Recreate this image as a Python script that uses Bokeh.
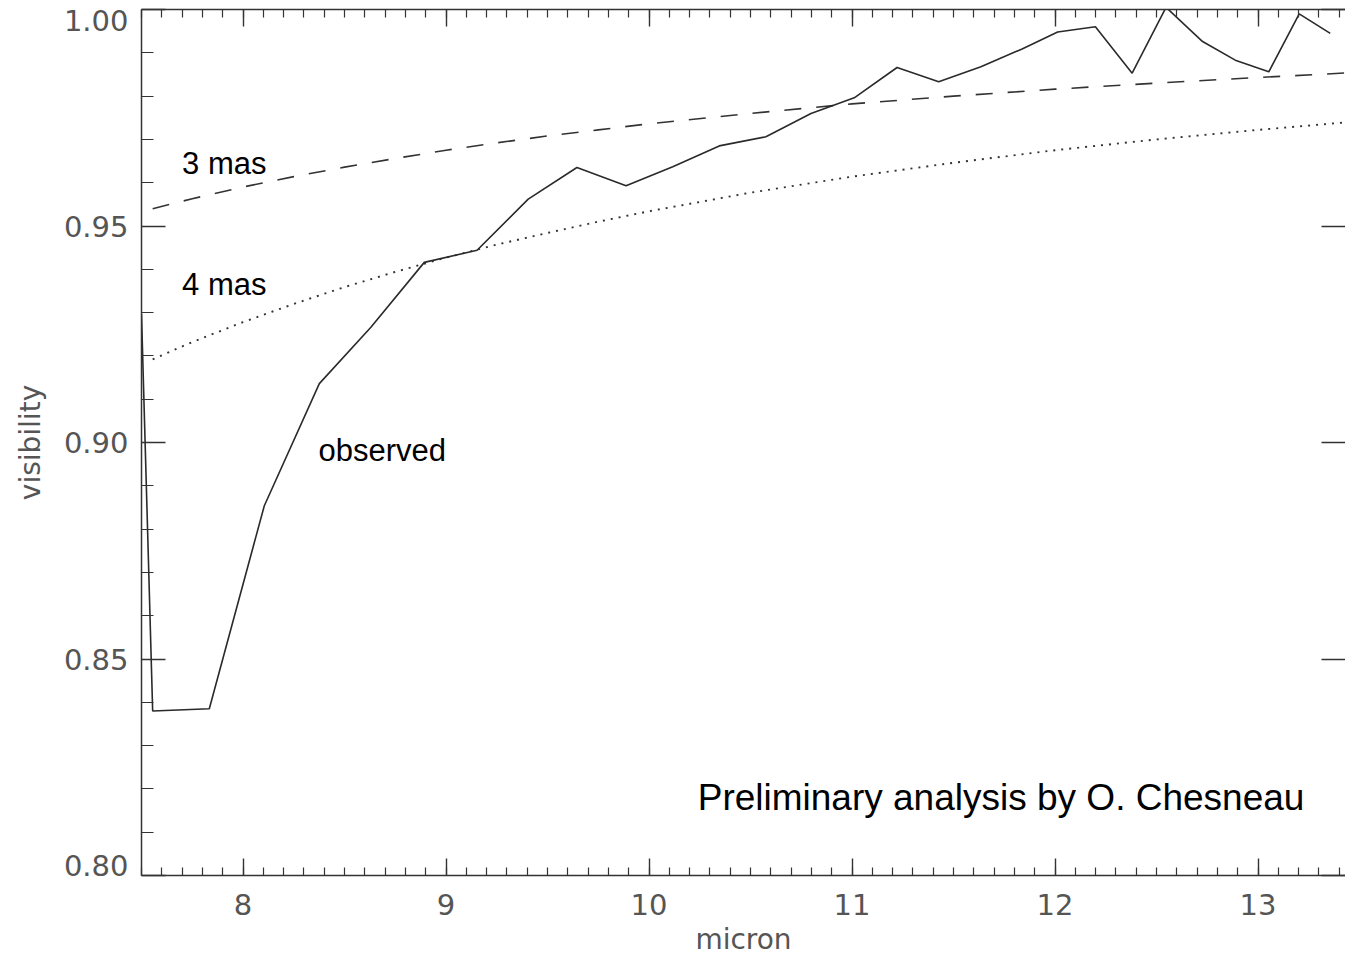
from bokeh.plotting import figure
from bokeh.models import Range1d, LinearAxis, FixedTicker, CustomJSTickFormatter
from bokeh.core.properties import value
from bokeh.embed import file_html
from bokeh.resources import INLINE

# Observed visibility against wavelength (micron)
obs_wavelength = [7.500, 7.555, 7.834, 8.105, 8.376, 8.630, 8.893, 9.153, 9.405, 9.645,
                  9.887, 10.117, 10.346, 10.576, 10.798, 11.011, 11.222, 11.427, 11.635,
                  11.838, 12.013, 12.199, 12.380, 12.547, 12.727, 12.888, 13.053, 13.203, 13.356]
obs_visibility = [0.9297, 0.8380, 0.8385, 0.8854, 0.9136, 0.9266, 0.9416, 0.9444, 0.9562, 0.9635,
                  0.9593, 0.9637, 0.9685, 0.9706, 0.9760, 0.9796, 0.9866, 0.9833, 0.9868,
                  0.9909, 0.9948, 0.9960, 0.9853, 1.0005, 0.9926, 0.9883, 0.9856, 0.9990, 0.9945]

# Uniform-disk model curves for two angular diameters
model_wavelength = [7.555, 7.75, 8.0, 8.25, 8.5, 8.75, 9.0, 9.25, 9.5, 9.75,
                    10.0, 10.5, 11.0, 11.5, 12.0, 12.5, 13.0, 13.5]
model_3mas = [0.9540, 0.9563, 0.9590, 0.9614, 0.9636, 0.9656, 0.9675, 0.9692, 0.9708, 0.9722,
              0.9736, 0.9760, 0.9782, 0.9800, 0.9816, 0.9830, 0.9843, 0.9855]
model_4mas = [0.9192, 0.9232, 0.9278, 0.9320, 0.9359, 0.9394, 0.9427, 0.9457, 0.9484, 0.9510,
              0.9534, 0.9577, 0.9614, 0.9646, 0.9675, 0.9700, 0.9722, 0.9742]

# Tick positions
x_major = [8, 9, 10, 11, 12, 13]
x_minor = [round(7.5 + 0.1 * i, 1) for i in range(60)]
y_major = [0.80, 0.85, 0.90, 0.95, 1.00]
y_minor = [round(0.80 + 0.01 * i, 2) for i in range(21)]
# the end labels are nudged inwards so they stay within the axis span
y_label_pos = [0.8023, 0.85, 0.90, 0.95, 0.9974]
y_label_txt = ["0.80", "0.85", "0.90", "0.95", "1.00"]

AXIS_COLOR = "#333333"
LABEL_COLOR = "#555555"
TICK_FONT = "DejaVu Sans"
TICK_SIZE = "29px"

p = figure(width=1345, height=958, output_backend="svg", toolbar_location=None,
           x_range=Range1d(7.5, 13.431), y_range=Range1d(0.80, 1.00),
           x_axis_location=None, y_axis_location=None,
           min_border_left=141, min_border_right=0, min_border_top=9, min_border_bottom=83)
p.grid.visible = False
p.outline_line_color = None
p.background_fill_color = "white"
p.border_fill_color = "white"


def style_axis(ax, major_in, minor_in):
    ax.axis_line_color = AXIS_COLOR
    ax.axis_line_width = 1.5
    ax.major_tick_line_color = AXIS_COLOR
    ax.minor_tick_line_color = AXIS_COLOR
    ax.major_tick_line_width = 1.4
    ax.minor_tick_line_width = 1.2
    ax.major_tick_in = major_in
    ax.major_tick_out = 0
    ax.minor_tick_in = minor_in
    ax.minor_tick_out = 0
    ax.major_label_text_font = TICK_FONT
    ax.major_label_text_font_size = TICK_SIZE
    ax.major_label_text_color = LABEL_COLOR
    ax.axis_label_text_font = TICK_FONT
    ax.axis_label_text_font_size = "28px"
    ax.axis_label_text_font_style = "normal"
    ax.axis_label_text_color = LABEL_COLOR


blank = CustomJSTickFormatter(code="return ''")

bottom = LinearAxis(ticker=FixedTicker(ticks=x_major, minor_ticks=x_minor), axis_label="micron")
style_axis(bottom, 17, 8)
bottom.major_label_standoff = 18
bottom.axis_label_standoff = 5
p.add_layout(bottom, "below")

top = LinearAxis(ticker=FixedTicker(ticks=x_major, minor_ticks=x_minor), formatter=blank)
style_axis(top, 17, 8)
top.major_label_standoff = 0
p.add_layout(top, "above")

# Left side: one axis for the line and tick marks, one for the labels
left_ticks = LinearAxis(ticker=FixedTicker(ticks=y_major, minor_ticks=y_minor), formatter=blank)
style_axis(left_ticks, 24, 12)
left_ticks.major_label_standoff = 0
p.add_layout(left_ticks, "left")

label_fmt = CustomJSTickFormatter(
    args=dict(pos=y_label_pos, txt=y_label_txt),
    code="""
    for (let i = 0; i < pos.length; i++) {
        if (Math.abs(tick - pos[i]) < 1e-6) { return txt[i]; }
    }
    return '';
    """)
left_labels = LinearAxis(ticker=FixedTicker(ticks=y_label_pos, minor_ticks=[]),
                         formatter=label_fmt, axis_label="visibility")
style_axis(left_labels, 0, 0)
left_labels.axis_line_color = None
left_labels.major_tick_line_color = None
left_labels.minor_tick_line_color = None
left_labels.major_label_standoff = 13
left_labels.axis_label_standoff = 14
p.add_layout(left_labels, "left")

right = LinearAxis(ticker=FixedTicker(ticks=y_major, minor_ticks=[]), formatter=blank)
style_axis(right, 24, 0)
right.axis_line_color = None
right.minor_tick_line_color = None
right.major_label_standoff = 0
p.add_layout(right, "right")

# Curves
p.line(model_wavelength, model_3mas, line_color="#333333", line_width=1.6, line_dash="17 15")
p.line(model_wavelength, model_4mas, line_color="#333333", line_width=1.9, line_dash="2 6")
p.line(obs_wavelength, obs_visibility, line_color="#2a2a2a", line_width=1.6)

# Annotations
p.text(x=[7.70, 7.70, 8.372], y=[0.9645, 0.9365, 0.8982], text=["3 mas", "4 mas", "observed"],
       text_font=value("Liberation Sans"), text_font_size="31px", text_color="black",
       text_align="left", text_baseline="alphabetic")
p.text(x=[10.240], y=[0.8181], text=["Preliminary analysis by O. Chesneau"],
       text_font=value("Liberation Sans"), text_font_size="37px", text_color="black",
       text_align="left", text_baseline="alphabetic")

open("out.html", "w").write(file_html(p, INLINE))
